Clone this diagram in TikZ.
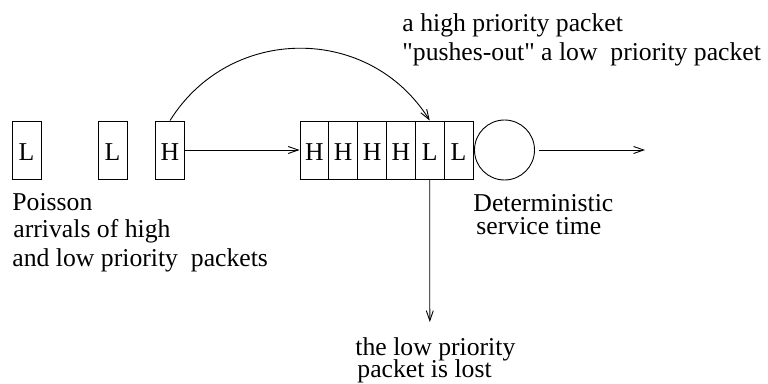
\documentclass[tikz,border=0pt]{standalone}
\usepackage{fontspec}
\setmainfont{Liberation Serif}[Ligatures=TeXOff]
\usetikzlibrary{arrows.meta}
\begin{document}
\begin{tikzpicture}[x=1pt,y=1pt,
    line width=0.9pt,
    every node/.style={font=\fontsize{25.7}{28}\selectfont},
    pkt/.style={draw, minimum width=29pt, minimum height=58pt, inner sep=0pt, text height=21pt},
    cell/.style={draw, minimum width=28.83pt, minimum height=58pt, inner sep=0pt, text height=21pt},
    txt/.style={anchor=base west, inner sep=0pt},
    arr/.style={-{Straight Barb[length=10pt,width=7pt,line width=0.9pt]}}]
  \useasboundingbox (0,0) rectangle (768,383);

  % arriving packets
  \node[pkt] (a1) at (26.5,233) {L};
  \node[pkt] (a2) at (112.5,233) {L};
  \node[pkt] (a3) at (170,233) {H};

  % buffer
  \foreach \t [count=\i] in {H,H,H,H,L,L}
    \node[cell] (q\i) at ({300+28.83*(\i-0.5)},233) {\t};

  % server
  \node[draw, circle, minimum size=60pt, inner sep=0pt] (srv) at (504.5,233) {};
  \coordinate (out) at (645,233);
  \coordinate (lost) at (429.8,61);

  % connectors
  \draw[arr] (a3.east) -- (q1.west);
  \draw[arr] (a3.north) to[out=58,in=122,looseness=1.12] (q5.north);
  \draw[arr, shorten <=4pt] (srv) -- (out);
  \draw[arr] (q5.south) -- (lost);

  % labels
  \node[txt] (t1) at (402,351) {a high priority packet};
  \node[txt] (t2) at (402,322) {"pushes-out" a low\ \ priority packet};
  \node[txt] (p1) at (12,172) {Poisson};
  \node[txt] (p2) at (13,145) {arrivals of high};
  \node[txt] (p3) at (12,116) {and low priority\ \ packets};
  \node[txt] (d1) at (473,171) {Deterministic};
  \node[txt] (d2) at (476,148) {service time};
  \node[txt] (l1) at (355,28) {the low priority};
  \node[txt] (l2) at (357,6) {packet is lost};
\end{tikzpicture}
\end{document}
